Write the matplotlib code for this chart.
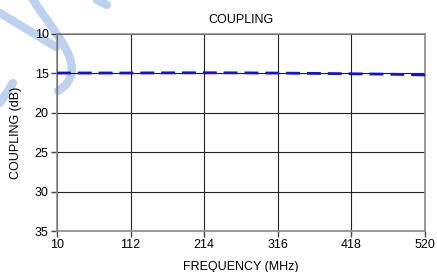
import numpy as np
import matplotlib.pyplot as plt
from matplotlib.lines import Line2D

freq = [10, 60, 112, 163, 214, 265, 316, 367, 418, 469, 520]
coupling = [14.95, 14.95, 14.95, 14.93, 14.92, 14.93, 14.96, 15.0, 15.05, 15.1, 15.2]
xticks = [10, 112, 214, 316, 418, 520]
yticks = [10, 15, 20, 25, 30, 35]

plt.rcParams['font.family'] = ['Liberation Sans', 'DejaVu Sans']

fig = plt.figure(figsize=(4.37, 2.72), dpi=100)
ax = fig.add_axes([57/437, 1 - 231/272, (425-57)/437, (231-34)/272])
ax.patch.set_alpha(0)

ax.plot(freq, coupling, color='#1010e0', lw=2.0, ls=(0, (5, 2.5)), zorder=3)

ax.set_xlim(10, 520)
ax.set_ylim(35, 10)
ax.set_xticks(xticks)
ax.set_yticks(yticks)
ax.grid(True, color='#222222', lw=0.8)
for s in ax.spines.values():
    s.set_color('#8a8a8a')
    s.set_linewidth(1.2)
ax.tick_params(direction='out', length=4, width=1, color='#444444',
               labelsize=9, pad=2)
ax.set_title('COUPLING', fontsize=9, pad=8)
ax.set_xlabel('FREQUENCY (MHz)', fontsize=9, labelpad=7)
ax.set_ylabel('COUPLING (dB)', fontsize=9, labelpad=9)

# faint watermark strokes, behind the axes
wm = '#bcd2f0'
strokes = [
    ([0, 56], [13, 47]),
    ([33, 42, 52, 62, 69, 72, 71, 66, 58], [0, 13, 27, 42, 55, 66, 76, 85, 91]),
    ([0, 13], [103, 83]),
    ([97, 107], [0, 5]),
]
for xs, ys in strokes:
    fig.add_artist(Line2D(np.array(xs)/437, 1 - np.array(ys)/272, color=wm,
                          lw=6, solid_capstyle='round', solid_joinstyle='round',
                          zorder=-1))

fig.savefig('out.png', dpi=100)
